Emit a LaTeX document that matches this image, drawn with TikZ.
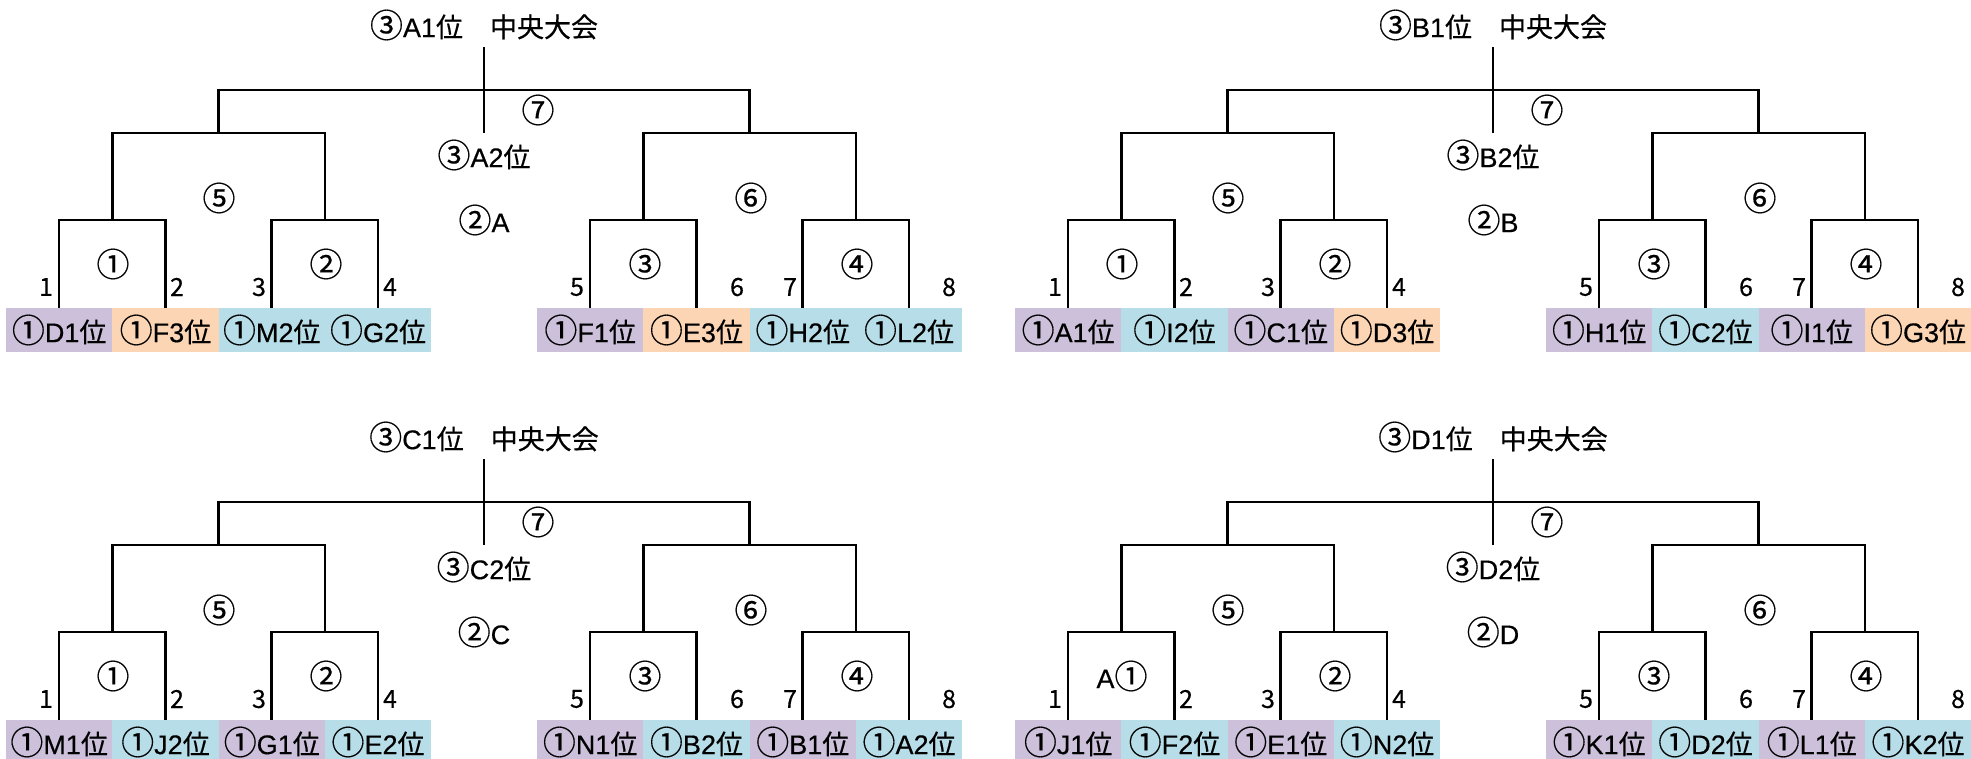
\documentclass[tikz,border=0pt]{standalone}
\usepackage{fontspec}
\setmainfont{Noto Sans CJK JP}[FakeBold=0.4]
\newfontfamily\lat{Liberation Sans}[FakeBold=0.4]
\definecolor{cpur}{RGB}{204,192,218}
\definecolor{corg}{RGB}{252,213,180}
\definecolor{cblu}{RGB}{183,222,232}
\newcommand\cn[1]{{\fontsize{33}{33}\selectfont\raisebox{-0.4pt}{#1}}}
\tikzset{
  bline/.style={line width=2.6pt, black},
  cell/.style={minimum width=106.3pt, minimum height=44pt, inner sep=0pt, font=\fontsize{27}{30}\selectfont},
  lbl/.style={inner sep=0pt, font=\fontsize{27}{30}\selectfont},
  num/.style={inner sep=0pt, font=\fontsize{25}{28}\selectfont},
}
\newcommand\bracketpanel[7]{%
\begin{scope}[shift={(#2,#3)}]
  \foreach \t/\c [count=\i] in {#6} {
    \node[cell, fill=\c] (#1c\i) at ({59.15+(\i-1)*106.3},330) {\cn{①}{\lat\t}位};
  }
  \foreach \t/\c [count=\i] in {#7} {
    \pgfmathtruncatemacro\j{\i+4}
    \node[cell, fill=\c] (#1c\j) at ({590.15+(\i-1)*106.3},330) {\cn{①}{\lat\t}位};
  }
  \coordinate (#1m1) at (112.3,220);
  \coordinate (#1m2) at (324.9,220);
  \coordinate (#1m3) at (643.3,220);
  \coordinate (#1m4) at (855.9,220);
  \coordinate (#1m5) at (218.6,133);
  \coordinate (#1m6) at (749.6,133);
  \coordinate (#1m7) at (484.1,90);
  \coordinate (#1top) at (484.1,47);
  \coordinate (#1bot) at (484.1,133);
  \draw[bline] (#1c1.north) |- (#1m1) -| (#1c2.north);
  \draw[bline] (#1c3.north) |- (#1m2) -| (#1c4.north);
  \draw[bline] (#1c5.north) |- (#1m3) -| (#1c6.north);
  \draw[bline] (#1c7.north) |- (#1m4) -| (#1c8.north);
  \draw[bline] (#1m1) |- (#1m5) -| (#1m2);
  \draw[bline] (#1m3) |- (#1m6) -| (#1m4);
  \draw[bline] (#1m5) |- (#1m7) -| (#1m6);
  \draw[bline] (#1top) -- (#1bot);
  \node[lbl] (#1title) at (484,25) {\cn{③}{\lat #41}位　中央大会};
  \node[lbl] (#1r7) at (538,110) {\cn{⑦}};
  \node[lbl] (#1second) at (484,155) {\cn{③}{\lat #42}位};
  \node[lbl] (#1group) at (484,220) {\cn{②}{\lat #4}};
  \node[lbl] (#1r5) at (219,198) {\cn{⑤}};
  \node[lbl] (#1r6) at (751,198) {\cn{⑥}};
  \node[lbl] (#1r1) at (113,264) {#5};
  \node[lbl] (#1r2) at (326,264) {\cn{②}};
  \node[lbl] (#1r3) at (645,264) {\cn{③}};
  \node[lbl] (#1r4) at (857,264) {\cn{④}};
  \node[num] (#1n1) at (46,287) {1};
  \node[num] (#1n2) at (177,287) {2};
  \node[num] (#1n3) at (259,287) {3};
  \node[num] (#1n4) at (390,287) {4};
  \node[num] (#1n5) at (577,287) {5};
  \node[num] (#1n6) at (737,287) {6};
  \node[num] (#1n7) at (790,287) {7};
  \node[num] (#1n8) at (949,287) {8};
\end{scope}}
\begin{document}
\begin{tikzpicture}[x=1pt,y=-1pt]
  \useasboundingbox (0,0) rectangle (1971,759);
  \fill[white] (0,0) rectangle (1971,759);
  \bracketpanel{A}{0}{0}{A}{\cn{①}}%
    {D1/cpur,F3/corg,M2/cblu,G2/cblu}%
    {F1/cpur,E3/corg,H2/cblu,L2/cblu}
  \bracketpanel{B}{1009}{0}{B}{\cn{①}}%
    {A1/cpur,I2/cblu,C1/cpur,D3/corg}%
    {H1/cpur,C2/cblu,I1/cpur,G3/corg}
  \bracketpanel{C}{0}{412}{C}{\cn{①}}%
    {M1/cpur,J2/cblu,G1/cpur,E2/cblu}%
    {N1/cpur,B2/cblu,B1/cpur,A2/cblu}
  \bracketpanel{D}{1009}{412}{D}{{\lat A}\cn{①}}%
    {J1/cpur,F2/cblu,E1/cpur,N2/cblu}%
    {K1/cpur,D2/cblu,L1/cpur,K2/cblu}
\end{tikzpicture}
\end{document}
